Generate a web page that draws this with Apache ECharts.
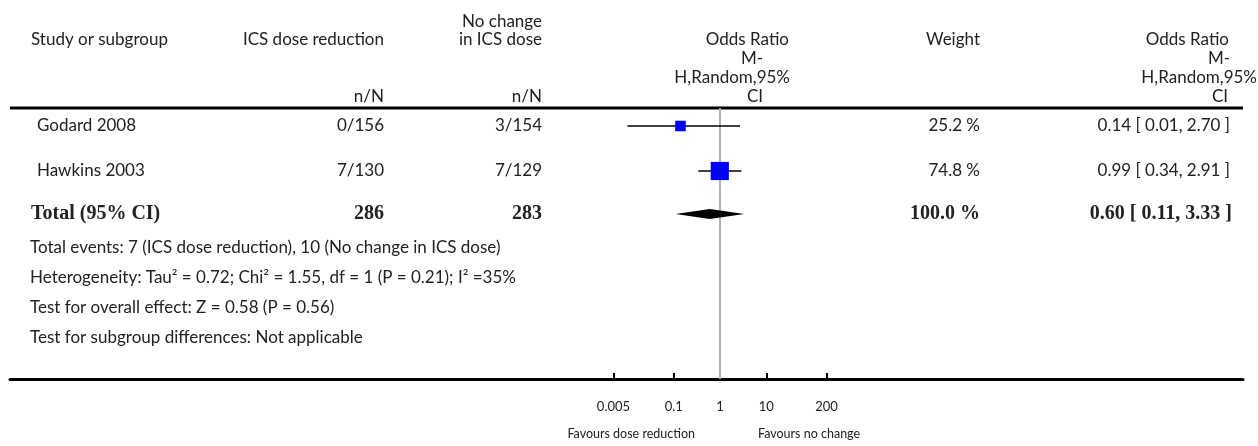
<!DOCTYPE html>
<html><head><meta charset="utf-8">
<script src="https://cdn.jsdelivr.net/npm/echarts@6/dist/echarts.min.js"></script>
<style>html,body{margin:0;padding:0;background:#fff}#c{width:1258px;height:446px}</style>
</head><body><div id="c"></div>
<script>
// ---- data ----
const studies = ['Godard 2008', 'Hawkins 2003'];
const reductionEvents = [0, 7];
const reductionTotals = [156, 130];
const noChangeEvents = [3, 7];
const noChangeTotals = [154, 129];
const oddsRatios = [0.14, 0.99];
const ciLow = [0.01, 0.34];
const ciHigh = [2.70, 2.91];
const weights = [25.2, 74.8];
const totalLabel = 'Total (95% CI)';
const totalReduction = 286;
const totalNoChange = 283;
const totalOR = 0.60;
const totalLow = 0.11;
const totalHigh = 3.33;
const totalWeight = 100.0;
const nullValue = 1;
const tickValues = [0.005, 0.1, 1, 10, 200];
const tickLabels = ['0.005', '0.1', '1', '10', '200'];
const footnotes = [
  'Total events: 7 (ICS dose reduction), 10 (No change in ICS dose)',
  'Heterogeneity: Tau\u00b2 = 0.72; Chi\u00b2 = 1.55, df = 1 (P = 0.21); I\u00b2 =35%',
  'Test for overall effect: Z = 0.58 (P = 0.56)',
  'Test for subgroup differences: Not applicable'
];
const favourLeft = 'Favours dose reduction';
const favourRight = 'Favours no change';

// ---- layout ----
const GRID_L = 10, GRID_R = 1243, TOP = 108, BOTTOM = 379;
const NULL_X = 720, DECADE = 46.3;
const xMin = (GRID_L - NULL_X) / DECADE;
const xMax = (GRID_R - NULL_X) / DECADE;
const ROW_Y = [126, 171];
const TOTAL_Y = 214;
const FOOT_Y = [248, 278, 308, 338];
const FONT = 'Lato';
const SERIF = 'Liberation Serif';
const TXT = '#222';
const FS = 17;

const fmt2 = v => v.toFixed(2);
const ciText = (o, l, h) => fmt2(o) + ' [ ' + fmt2(l) + ', ' + fmt2(h) + ' ]';

function txt(text, x, y, align, opts) {
  opts = opts || {};
  return {
    type: 'text', silent: true,
    style: {
      text: text, x: x, y: y, align: align, verticalAlign: 'middle',
      fontSize: opts.size || FS, fontFamily: opts.family || FONT,
      fontWeight: opts.weight || 'normal', fill: TXT
    }
  };
}

const graphics = [];
// header line
graphics.push({ type: 'rect', silent: true, shape: { x: GRID_L, y: TOP - 1.5, width: GRID_R - GRID_L, height: 3 }, style: { fill: '#000' } });
// header texts
graphics.push(txt('Study or subgroup', 31, 40, 'left'));
graphics.push(txt('ICS dose reduction', 384, 40, 'right'));
graphics.push(txt('n/N', 384, 97, 'right'));
graphics.push(txt('No change', 542, 22, 'right'));
graphics.push(txt('in ICS dose', 542, 40, 'right'));
graphics.push(txt('n/N', 542, 97, 'right'));
graphics.push(txt('Odds Ratio', 789, 40, 'right'));
graphics.push(txt('M-', 763, 59, 'right'));
graphics.push(txt('H,Random,95%', 790, 78, 'right'));
graphics.push(txt('CI', 763, 97, 'right'));
graphics.push(txt('Weight', 980, 40, 'right'));
graphics.push(txt('Odds Ratio', 1229, 40, 'right'));
graphics.push(txt('M-', 1230, 59, 'right'));
graphics.push(txt('H,Random,95%', 1257, 78, 'right'));
graphics.push(txt('CI', 1228, 97, 'right'));
// study rows
studies.forEach((s, i) => {
  const y = ROW_Y[i];
  graphics.push(txt(s, 37, y, 'left'));
  graphics.push(txt(reductionEvents[i] + '/' + reductionTotals[i], 384, y, 'right'));
  graphics.push(txt(noChangeEvents[i] + '/' + noChangeTotals[i], 542, y, 'right'));
  graphics.push(txt(weights[i].toFixed(1) + ' %', 980, y, 'right'));
  graphics.push(txt(ciText(oddsRatios[i], ciLow[i], ciHigh[i]), 1230, y, 'right'));
});
// total row
const bold = { family: SERIF, weight: 'bold', size: 20 };
graphics.push(txt(totalLabel, 31, TOTAL_Y, 'left', bold));
graphics.push(txt(String(totalReduction), 384, TOTAL_Y, 'right', bold));
graphics.push(txt(String(totalNoChange), 542, TOTAL_Y, 'right', bold));
graphics.push(txt(totalWeight.toFixed(1) + ' %', 980, TOTAL_Y, 'right', bold));
graphics.push(txt(ciText(totalOR, totalLow, totalHigh), 1232, TOTAL_Y, 'right', bold));
// footnotes
footnotes.forEach((f, i) => graphics.push(txt(f, 30, FOOT_Y[i], 'left')));
// favours
graphics.push(txt(favourLeft, 695, 434, 'right', { size: 12.5 }));
graphics.push(txt(favourRight, 758, 434, 'left', { size: 12.5 }));

const studyData = studies.map((s, i) => [
  Math.log10(ciLow[i]), Math.log10(ciHigh[i]), Math.log10(oddsRatios[i]), ROW_Y[i] - TOP, weights[i]
]);
const totalData = [[Math.log10(totalLow), Math.log10(totalHigh), Math.log10(totalOR), TOTAL_Y - TOP]];
const logTicks = tickValues.map(v => Math.log10(v));

const chart = echarts.init(document.getElementById('c'), null, { renderer: 'canvas' });
chart.setOption({
  animation: false,
  backgroundColor: '#fff',
  grid: { left: GRID_L, right: 1258 - GRID_R, top: TOP, bottom: 446 - BOTTOM, containLabel: false },
  xAxis: {
    type: 'value', min: xMin, max: xMax, position: 'bottom',
    splitLine: { show: false },
    axisLine: { show: true, onZero: false, lineStyle: { color: '#000', width: 3 } },
    axisTick: { show: true, inside: true, length: 6, lineStyle: { color: '#000', width: 2 }, customValues: logTicks },
    axisLabel: {
      customValues: logTicks, margin: 21, fontSize: 13, fontFamily: FONT, color: TXT,
      formatter: v => {
        const i = logTicks.findIndex(t => Math.abs(t - v) < 1e-6);
        return i >= 0 ? tickLabels[i] : '';
      }
    }
  },
  yAxis: { type: 'value', min: 0, max: BOTTOM - TOP, inverse: true, show: false },
  series: [
    {
      type: 'line', data: [], z: 1, silent: true,
      markLine: {
        silent: true, symbol: 'none', label: { show: false }, z: 1,
        lineStyle: { color: '#b3b3b3', width: 2, type: 'solid' },
        data: [{ xAxis: Math.log10(nullValue) }]
      }
    },
    {
      type: 'custom', data: studyData, z: 3,
      renderItem: (params, api) => {
        const y = api.value(3);
        const lo = api.coord([api.value(0), y]);
        const hi = api.coord([api.value(1), y]);
        const c = api.coord([api.value(2), y]);
        const size = 2.1 * Math.sqrt(api.value(4));
        return {
          type: 'group', children: [
            { type: 'line', shape: { x1: lo[0], y1: lo[1], x2: hi[0], y2: hi[1] }, style: { stroke: '#000', lineWidth: 1.5 } },
            { type: 'rect', shape: { x: c[0] - size / 2, y: c[1] - size / 2, width: size, height: size }, style: { fill: '#0000ff' } },
            { type: 'line', shape: { x1: c[0], y1: c[1] - 2.5, x2: c[0], y2: c[1] + 2.5 }, style: { stroke: '#1a1a80', lineWidth: 1 } }
          ]
        };
      }
    },
    {
      type: 'custom', data: totalData, z: 4,
      renderItem: (params, api) => {
        const y = api.value(3);
        const lo = api.coord([api.value(0), y]);
        const hi = api.coord([api.value(1), y]);
        const c = api.coord([api.value(2), y]);
        return {
          type: 'polygon',
          shape: { points: [[lo[0], lo[1]], [c[0], c[1] - 5], [hi[0], hi[1]], [c[0], c[1] + 5]] },
          style: { fill: '#000' }
        };
      }
    }
  ],
  graphic: { elements: graphics }
});
</script>
</body></html>
